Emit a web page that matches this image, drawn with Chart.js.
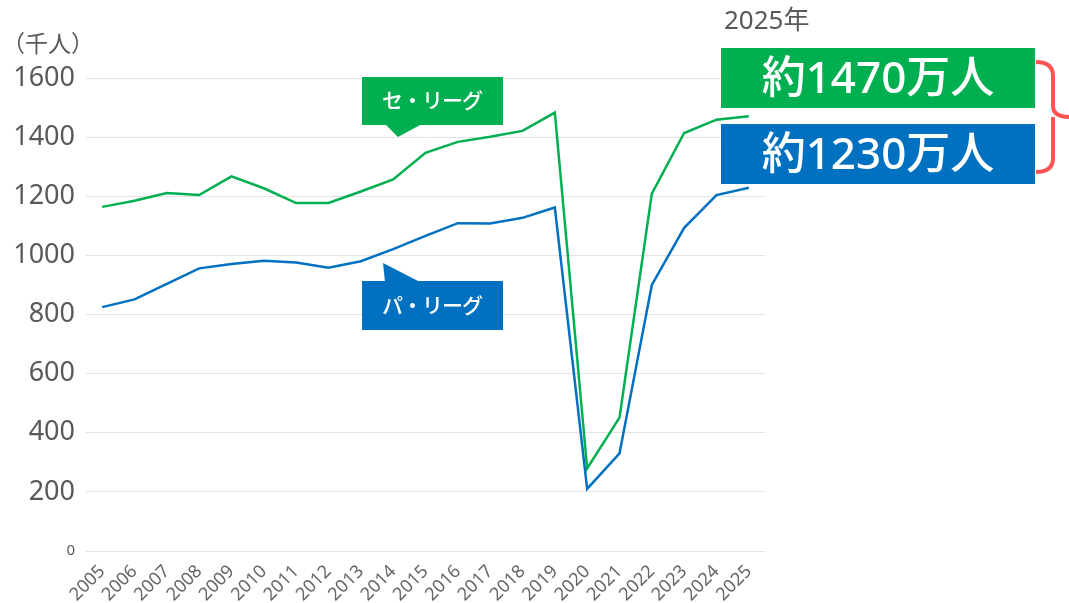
<!DOCTYPE html>
<html>
<head>
<meta charset="utf-8">
<script src="https://cdn.jsdelivr.net/npm/chart.js@4"></script>
<style>
  html, body { margin: 0; padding: 0; background: #fff; }
  #wrap { width: 1069px; height: 603px; position: relative; }
</style>
</head>
<body>
<div id="wrap"><canvas id="attendanceChart"></canvas></div>
<script>
// Years on the x axis
const years = ['2005', '2006', '2007', '2008', '2009', '2010', '2011', '2012', '2013', '2014',
    '2015', '2016', '2017', '2018', '2019', '2020', '2021', '2022', '2023', '2024', '2025'];

// Attendance, thousands of people
const centralLeague = [1164, 1185, 1211, 1204, 1267, 1227, 1177, 1177, 1216, 1257,
    1347, 1384, 1401, 1421, 1483, 279, 451, 1209, 1414, 1459, 1471];
const pacificLeague = [825, 851, 904, 956, 971, 982, 976, 958, 980, 1021,
    1066, 1109, 1108, 1127, 1162, 210, 330, 900, 1093, 1204, 1229];

// Y axis ticks
const yTicks = [0, 200, 400, 600, 800, 1000, 1200, 1400, 1600];

const GREEN = '#00b050';
const BLUE = '#0070c0';
const GREY = '#595959';
const FONT = '"Noto Sans", "Noto Sans CJK JP", sans-serif';

// Callouts, unit label and the 2025 summary, drawn on top of the chart
const annotations = {
    id: 'annotations',
    afterDraw(chart) {
        const ctx = chart.ctx;
        ctx.save();

        // unit label
        ctx.fillStyle = GREY;
        ctx.font = '23px ' + FONT;
        ctx.textAlign = 'left';
        ctx.textBaseline = 'middle';
        ctx.fillText('（千人）', 2, 45);

        // Central league callout (pointer below)
        ctx.fillStyle = GREEN;
        ctx.fillRect(362, 77, 141, 48);
        ctx.beginPath();
        ctx.moveTo(385, 124);
        ctx.lineTo(422, 124);
        ctx.lineTo(398, 137);
        ctx.closePath();
        ctx.fill();

        // Pacific league callout (pointer above)
        ctx.fillStyle = BLUE;
        ctx.fillRect(362, 281, 141, 49);
        ctx.beginPath();
        ctx.moveTo(383, 263);
        ctx.lineTo(420, 282);
        ctx.lineTo(385, 282);
        ctx.closePath();
        ctx.fill();

        ctx.fillStyle = '#fff';
        ctx.font = '500 21px ' + FONT;
        ctx.textAlign = 'center';
        ctx.letterSpacing = '-1px';
        ctx.fillText('セ・リーグ', 432, 102);
        ctx.fillText('パ・リーグ', 432, 307);
        ctx.letterSpacing = '0px';

        // 2025 summary
        ctx.fillStyle = GREY;
        ctx.font = '26px ' + FONT;
        ctx.textAlign = 'left';
        ctx.fillText('2025年', 724, 22);

        ctx.fillStyle = GREEN;
        ctx.fillRect(721, 48, 314, 60);
        ctx.fillStyle = BLUE;
        ctx.fillRect(721, 124, 314, 60);

        ctx.fillStyle = '#fff';
        ctx.font = '500 44px ' + FONT;
        ctx.textAlign = 'center';
        ctx.fillText('約1470万人', 878, 80);
        ctx.fillText('約1230万人', 878, 156);

        // red brace
        ctx.strokeStyle = '#ff5454';
        ctx.lineWidth = 4;
        ctx.lineJoin = 'round';
        ctx.beginPath();
        ctx.moveTo(1036, 62);
        ctx.quadraticCurveTo(1053, 62, 1053, 76);
        ctx.lineTo(1053, 106);
        ctx.quadraticCurveTo(1053, 117, 1070, 117);
        ctx.moveTo(1053, 117);
        ctx.quadraticCurveTo(1053, 117, 1053, 128);
        ctx.lineTo(1053, 158);
        ctx.quadraticCurveTo(1053, 172, 1036, 172);
        ctx.stroke();

        ctx.restore();
    }
};

function createAttendanceChart() {
    const ctx = document.getElementById('attendanceChart').getContext('2d');

    const data = {
        labels: years,
        datasets: [{
            label: 'セ・リーグ',
            data: centralLeague,
            borderColor: GREEN,
            backgroundColor: GREEN,
            borderWidth: 2.5,
            pointRadius: 0,
            tension: 0
        }, {
            label: 'パ・リーグ',
            data: pacificLeague,
            borderColor: BLUE,
            backgroundColor: BLUE,
            borderWidth: 2.5,
            pointRadius: 0,
            tension: 0
        }]
    };

    const config = {
        type: 'line',
        data: data,
        options: {
            responsive: true,
            maintainAspectRatio: false,
            animation: false,
            layout: {
                padding: { top: 78, right: 304, left: 0, bottom: 0 }
            },
            scales: {
                y: {
                    min: 0,
                    max: 1600,
                    afterBuildTicks: (scale) => {
                        scale.ticks = yTicks.map(v => ({ value: v }));
                    },
                    afterFit: (scale) => { scale.width = 86; },
                    border: { display: false },
                    grid: {
                        color: '#e3e3e3',
                        lineWidth: 1,
                        drawTicks: false
                    },
                    ticks: {
                        color: GREY,
                        padding: 11,
                        callback: (v) => String(v),
                        font: (c) => ({
                            family: FONT,
                            size: c.tick && c.tick.value === 0 ? 15 : 27
                        })
                    }
                },
                x: {
                    offset: true,
                    afterFit: (scale) => { scale.height = 52; },
                    border: { display: false },
                    grid: { display: false },
                    ticks: {
                        color: '#666',
                        minRotation: 45,
                        maxRotation: 45,
                        autoSkip: false,
                        padding: 2,
                        font: { family: FONT, size: 18 }
                    }
                }
            },
            plugins: {
                legend: { display: false },
                tooltip: { enabled: false }
            }
        },
        plugins: [annotations]
    };

    return new Chart(ctx, config);
}

document.addEventListener('DOMContentLoaded', () => {
    createAttendanceChart();
});
</script>
</body>
</html>
